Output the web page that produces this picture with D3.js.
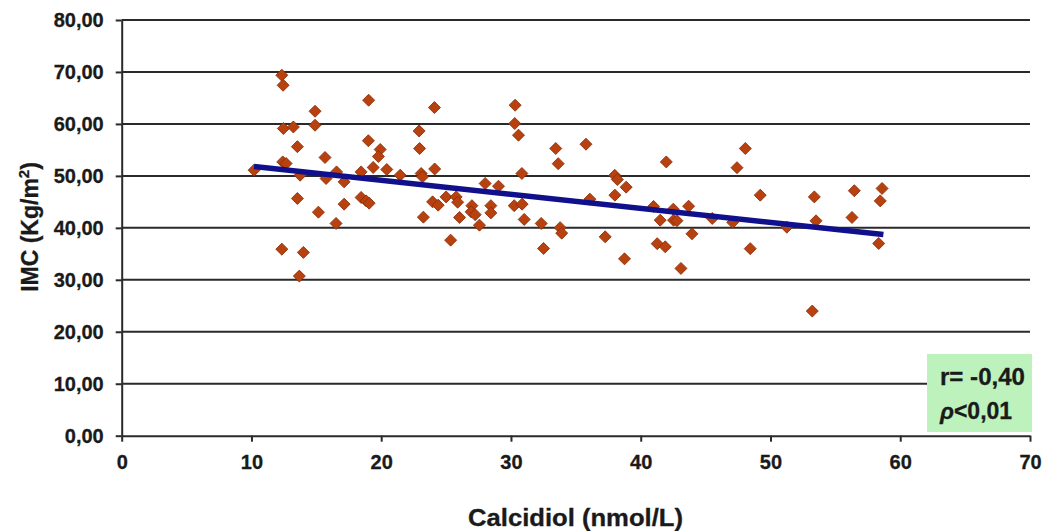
<!DOCTYPE html>
<html lang="es">
<head>
<meta charset="utf-8">
<script src="https://d3js.org/d3.v7.min.js"></script>
<style type="text/css">
body {
  margin: 0;
  background: #fff;
  font-family: "Liberation Sans", Arial, sans-serif;
}
.grid line {
  stroke: #2a2a2a;
  stroke-width: 2;
}
.axis path,
.axis line {
  fill: none;
  stroke: #2a2a2a;
  stroke-width: 2;
}
.axis text {
  font: bold 20px "Liberation Sans", Arial, sans-serif;
  fill: #1a1a1a;
  stroke: #1a1a1a;
  stroke-width: 0.3;
}
.title {
  font: bold 23px "Liberation Sans", Arial, sans-serif;
  fill: #1a1a1a;
  stroke: #1a1a1a;
  stroke-width: 0.3;
}
</style>
<title>IMC vs Calcidiol</title>
</head>
<body>
<script type="text/javascript">
// calcidiol (nmol/L)
var calcidiol = [10.2, 12.34, 12.44, 14.9, 12.46, 13.23, 14.9, 13.54, 15.67, 12.41, 12.67, 13.75, 15.75, 16.56, 17.14,
  13.54, 17.14, 15.16, 16.52, 12.34, 14.0, 13.69, 19.03, 24.1, 22.92, 19.01, 19.92, 19.78, 22.96, 18.45,
  19.38, 20.43, 21.46, 23.08, 23.18, 24.12, 18.45, 18.84, 19.07, 23.96, 24.39, 25.0, 23.25, 25.35, 30.32,
  30.29, 30.58, 33.45, 33.64, 30.84, 28.01, 29.04, 25.78, 25.89, 26.04, 26.99, 26.93, 27.24, 27.57, 28.45,
  28.45, 30.25, 30.86, 31.02, 32.33, 32.51, 33.79, 33.91, 35.78, 38.0, 38.2, 38.88, 38.01, 36.08, 40.99,
  41.5, 37.26, 38.75, 41.27, 41.89, 41.97, 48.06, 47.42, 49.21, 42.51, 43.69, 42.53, 42.79, 45.51, 47.09,
  43.95, 48.44, 43.1, 53.38, 56.46, 58.6, 58.46, 56.28, 53.51, 51.26, 58.34, 53.22];
// IMC (Kg/m2)
var imc = [51.1, 69.37, 67.44, 62.44, 59.12, 59.42, 59.75, 55.62, 53.54, 52.69, 52.38, 50.13, 49.5, 50.77, 48.85,
  45.65, 44.56, 43.02, 40.85, 35.9, 35.27, 30.71, 64.56, 63.15, 58.65, 56.77, 55.08, 53.73, 55.27, 50.77,
  51.62, 51.23, 50.13, 50.46, 49.81, 51.33, 45.85, 45.19, 44.75, 45.0, 44.37, 45.96, 42.06, 37.63, 63.6,
  60.08, 57.83, 55.27, 52.35, 50.46, 48.54, 48.02, 45.96, 44.94, 42.0, 44.27, 43.08, 42.54, 40.52, 44.27,
  42.88, 44.27, 44.56, 41.62, 40.85, 36.04, 40.04, 38.98, 56.1, 50.1, 49.3, 47.83, 46.29, 45.52, 44.12,
  41.48, 38.27, 34.04, 36.96, 36.35, 52.69, 55.27, 51.58, 46.29, 43.6, 44.17, 41.48, 41.38, 41.81, 41.06,
  38.85, 36.0, 32.19, 45.96, 47.15, 47.58, 45.19, 42.0, 41.35, 40.13, 37.0, 23.98];

// trend line ends
var trendX = [10.2, 58.7];
var trendY = [51.8, 38.7];

var xTicks = [0, 10, 20, 30, 40, 50, 60, 70];
var yTicks = [0, 10, 20, 30, 40, 50, 60, 70, 80];

var width = 1050, height = 531;

var x = d3.scaleLinear().domain([0, 70]).range([121.7, 1030]);
var y = d3.scaleLinear().domain([0, 80]).range([435.7, 20]);

var svg = d3.select("body").append("svg")
  .attr("width", width)
  .attr("height", height);

// horizontal grid
svg.append("g")
  .attr("class", "grid")
  .selectAll("line")
  .data(yTicks.slice(1))
  .enter().append("line")
  .attr("x1", x(0))
  .attr("x2", x(70))
  .attr("y1", function(d) { return y(d); })
  .attr("y2", function(d) { return y(d); });

// y axis
var fmt = function(d) { return d3.format(".2f")(d).replace(".", ","); };
svg.append("g")
  .attr("class", "axis axis--y")
  .attr("transform", "translate(" + x(0) + ",0)")
  .call(d3.axisLeft(y).tickValues(yTicks).tickFormat(fmt).tickSize(6).tickSizeOuter(0).tickPadding(12));

// x axis
svg.append("g")
  .attr("class", "axis axis--x")
  .attr("transform", "translate(0," + y(0) + ")")
  .call(d3.axisBottom(x).tickValues(xTicks).tickFormat(d3.format("d")).tickSize(6).tickSizeOuter(0).tickPadding(13));

// stats box
var bx = 927, by = 354;
svg.append("rect")
  .attr("x", bx)
  .attr("y", by)
  .attr("width", 105)
  .attr("height", 78)
  .attr("fill", "#bdf2bd");

var s1 = svg.append("text")
  .attr("class", "title")
  .attr("x", bx + 13)
  .attr("y", by + 31)
  .attr("textLength", 85)
  .attr("lengthAdjust", "spacingAndGlyphs")
  .text("r= -0,40");

var s2 = svg.append("text")
  .attr("class", "title")
  .attr("x", bx + 13)
  .attr("y", by + 65);
s2.append("tspan").style("font-style", "italic").text("\u03c1");
s2.append("tspan").text("<0,01");

// points
var pts = calcidiol.map(function(d, i) { return [d, imc[i]]; });
svg.append("g")
  .selectAll("path")
  .data(pts)
  .enter().append("path")
  .attr("d", d3.symbol().type(d3.symbolSquare).size(72))
  .attr("transform", function(d) { return "translate(" + x(d[0]) + "," + y(d[1]) + ") rotate(45)"; })
  .attr("fill", "#b8420f")
  .attr("stroke", "#8c2c06")
  .attr("stroke-width", 0.8);

// regression line
var line = d3.line()
  .x(function(d) { return x(d[0]); })
  .y(function(d) { return y(d[1]); });

svg.append("path")
  .datum(trendX.map(function(d, i) { return [d, trendY[i]]; }))
  .attr("d", line)
  .attr("fill", "none")
  .attr("stroke", "#10108c")
  .attr("stroke-width", 5.5);

// axis titles
svg.append("text")
  .attr("class", "title")
  .attr("x", 468)
  .attr("y", 526)
  .attr("textLength", 215)
  .attr("lengthAdjust", "spacingAndGlyphs")
  .text("Calcidiol (nmol/L)");

var ylab = svg.append("text")
  .attr("class", "title")
  .attr("transform", "translate(38,227) rotate(-90)")
  .attr("text-anchor", "middle");
ylab.append("tspan").text("IMC (Kg/m");
ylab.append("tspan").attr("dy", -9).style("font-size", "15px").text("2");
ylab.append("tspan").attr("dy", 9).text(")");
</script>
</body>
</html>
